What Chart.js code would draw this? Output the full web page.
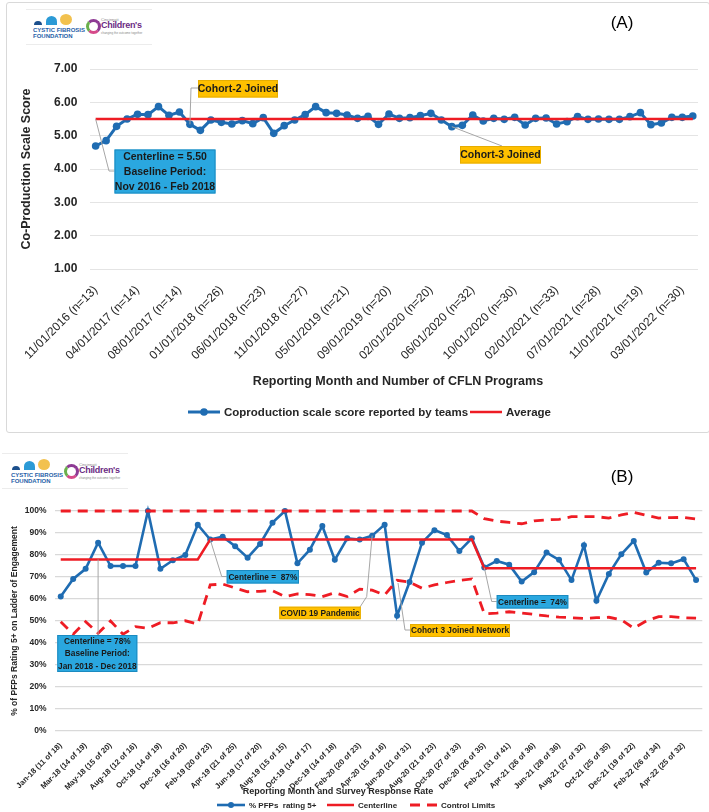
<!DOCTYPE html>
<html>
<head>
<meta charset="utf-8">
<script src="https://cdn.jsdelivr.net/npm/chart.js@4.4.1/dist/chart.umd.min.js"></script>
<style>
  body { margin: 0; background: #fff; width: 709px; height: 812px; overflow: hidden; position: relative; font-family: 'Liberation Sans', Arial, sans-serif; }
  canvas { position: absolute; left: 0; }
  #chartA { top: 0; }
  #chartB { top: 432px; }
  .frame { position: absolute; left: 6px; top: 2px; width: 702px; height: 429px; border: 1px solid #d9d9d9; border-radius: 3px; }
  .logoBox { position: absolute; width: 126px; height: 34px; border-top: 1px solid #ececec; border-bottom: 1px solid #ececec; }
  .logo { position: absolute; width: 120px; height: 26px; }
  .logo div { position: absolute; }
  .d1 { left: 1px; top: 7px; width: 8px; height: 4px; background: #1c4f8c; border-radius: 8px 8px 0 0; }
  .d2 { left: 13px; top: 2px; width: 11px; height: 9px; background: #2b9ad6; border-radius: 6px 6px 0 0; }
  .d3 { left: 27px; top: 0; width: 12px; height: 11px; background: #f2c14e; border-radius: 50%; }
  .cf { left: 0; font: bold 6px 'Liberation Sans', Arial, sans-serif; color: #1f5ea8; white-space: nowrap; }
  .sw { left: 53px; top: 5px; width: 9px; height: 9px; border-radius: 50%; border: 3px solid #8e3a94; border-left-color: #6ab04c; border-bottom-color: #d64a8a; }
  .cc1 { left: 68px; top: 3px; font: 4px 'Liberation Sans', Arial, sans-serif; color: #888; }
  .cc2 { left: 68px; top: 6px; font: bold 9px 'Liberation Sans', Arial, sans-serif; color: #6b2c84; white-space: nowrap; letter-spacing: -0.3px; }
  .cc3 { left: 68px; top: 17px; font: 3px 'Liberation Sans', Arial, sans-serif; color: #888; white-space: nowrap; }
</style>
</head>
<body>
<div class="frame"></div>
<div class="logoBox" style="left:26px;top:9px;"></div>
<div class="logo" style="left:33px;top:14px;">
  <div class="d1"></div><div class="d2"></div><div class="d3"></div>
  <div class="cf" style="top:13px;">CYSTIC FIBROSIS</div>
  <div class="cf" style="top:19px;">FOUNDATION</div>
  <div class="sw"></div>
  <div class="cc1">Cincinnati</div>
  <div class="cc2">Children's</div>
  <div class="cc3">changing the outcome together</div>
</div>
<div class="logoBox" style="left:2px;top:453px;"></div>
<div class="logo" style="left:11px;top:459px;">
  <div class="d1"></div><div class="d2"></div><div class="d3"></div>
  <div class="cf" style="top:13px;">CYSTIC FIBROSIS</div>
  <div class="cf" style="top:19px;">FOUNDATION</div>
  <div class="sw"></div>
  <div class="cc1">Cincinnati</div>
  <div class="cc2">Children's</div>
  <div class="cc3">changing the outcome together</div>
</div>
<canvas id="chartA" width="709" height="432"></canvas>
<canvas id="chartB" width="709" height="380"></canvas>
<script>
const FONT = "'Liberation Sans', Arial, sans-serif";
const BLUE = '#1f6cb2';
const RED = '#ee1c24';

// ---- chart A: co-production scale score ----
const tickLabelsA = [
  '11/01/2016 (n=13)', '04/01/2017 (n=14)', '08/01/2017 (n=14)', '01/01/2018 (n=26)',
  '06/01/2018 (n=23)', '11/01/2018 (n=27)', '05/01/2019 (n=21)', '09/01/2019 (n=20)',
  '02/01/2020 (n=20)', '06/01/2020 (n=32)', '10/01/2020 (n=30)', '02/01/2021 (n=33)',
  '07/01/2021 (n=28)', '11/01/2021 (n=19)', '03/01/2022 (n=30)'
];
const scoreA = [
  4.69, 4.85, 5.28, 5.50, 5.64, 5.63, 5.87, 5.61, 5.71, 5.34,
  5.16, 5.47, 5.40, 5.35, 5.45, 5.36, 5.54, 5.07, 5.30, 5.47,
  5.63, 5.87, 5.69, 5.67, 5.62, 5.52, 5.58, 5.34, 5.65, 5.52,
  5.54, 5.60, 5.67, 5.47, 5.27, 5.31, 5.62, 5.44, 5.52, 5.49,
  5.55, 5.32, 5.52, 5.53, 5.35, 5.42, 5.57, 5.49, 5.50, 5.49,
  5.49, 5.57, 5.69, 5.33, 5.38, 5.55, 5.55, 5.59
];
const averageA = 5.50;

// ---- chart B: % PFPs rating 5+ ----
const tickLabelsB = [
  'Jan-18 (11 of 18)', 'Mar-18 (14 of 19)', 'May-18 (15 of 20)', 'Aug-18 (12 of 16)',
  'Oct-18 (14 of 19)', 'Dec-18 (16 of 20)', 'Feb-19 (20 of 23)', 'Apr-19 (21 of 25)',
  'Jun-19 (17 of 20)', 'Aug-19 (15 of 15)', 'Oct-19 (14 of 17)', 'Dec-19 (14 of 18)',
  'Feb-20 (20 of 23)', 'Apr-20 (15 of 16)', 'Jun-20 (21 of 31)', 'Aug-20 (21 of 23)',
  'Oct-20 (27 of 33)', 'Dec-20 (26 of 35)', 'Feb-21 (31 of 41)', 'Apr-21 (26 of 36)',
  'Jun-21 (28 of 36)', 'Aug-21 (27 of 32)', 'Oct-21 (25 of 35)', 'Dec-21 (19 of 22)',
  'Feb-22 (26 of 34)', 'Apr-22 (25 of 32)'
];
const pctB = [
  61.1, 69.1, 73.7, 85.6, 75.0, 75.0, 75.0, 100, 73.7, 77.6,
  80.0, 93.8, 87.0, 88.3, 84.0, 78.8, 85.0, 94.7, 100, 76.2,
  82.4, 93.2, 77.8, 87.6, 87.0, 88.8, 93.8, 52.4, 67.7, 85.6,
  91.3, 89.1, 81.8, 87.6, 74.3, 77.3, 75.6, 67.9, 72.2, 81.1,
  77.8, 68.6, 84.4, 59.2, 71.4, 80.3, 86.4, 72.0, 76.5, 76.2,
  78.1, 68.6
];
const centerB = [
  78, 78, 78, 78, 78, 78, 78, 78, 78, 78, 78, 78,
  87, 87, 87, 87, 87, 87, 87, 87, 87, 87, 87, 87, 87, 87, 87, 87, 87, 87, 87, 87, 87, 87,
  74, 74, 74, 74, 74, 74, 74, 74, 74, 74, 74, 74, 74, 74, 74, 74, 74, 74
];
const uclB = [
  100, 100, 100, 100, 100, 100, 100, 100, 100, 100, 100, 100,
  100, 100, 100, 100, 100, 100, 100, 100, 100, 100, 100, 100, 100, 100, 100, 100, 100, 100, 100, 100, 100, 100,
  96.5, 95.4, 94.8, 94.2, 95.5, 96.0, 96.2, 97.4, 97.4, 97.4, 96.8, 98.2, 99.4, 98.0, 96.8, 97.0, 97.1, 96.4
];
const lclB = [
  49.7, 44.0, 49.7, 44.4, 50.0, 44.0, 47.4, 46.7, 49.2, 49.2, 50.1, 48.6,
  66.4, 66.8, 65.0, 63.3, 63.5, 63.8, 61.1, 62.3, 62.0, 61.1, 62.9, 61.1, 64.5, 64.0, 61.8, 68.5, 67.6, 64.9, 66.4, 67.5, 68.5, 69.1,
  53.3, 53.6, 54.2, 53.6, 53.0, 52.3, 51.8, 51.5, 51.2, 51.5, 51.7, 50.5, 46.7, 50.0, 52.0, 52.0, 51.5, 51.3
];

const catsA = scoreA.map((v, i) => (i % 4 === 0 ? tickLabelsA[i / 4] : ''));
const catsB = pctB.map((v, i) => (i % 2 === 0 ? tickLabelsB[i / 2] : ''));

// callout boxes with grey leader lines, anchored on data through the scales
function calloutPlugin(items) {
  return {
    id: 'callouts',
    afterDatasetsDraw(chart) {
      const ctx = chart.ctx;
      const xs = chart.scales.x, ys = chart.scales.y;
      items.forEach(it => {
        ctx.save();
        ctx.strokeStyle = '#a6a6a6';
        ctx.lineWidth = 1;
        ctx.beginPath();
        const start = it.from ? it.from : [xs.getPixelForValue(it.anchor[0]), ys.getPixelForValue(it.anchor[1])];
        ctx.moveTo(start[0], start[1]);
        it.path.forEach(p => ctx.lineTo(p[0], p[1]));
        ctx.stroke();
        const [bx, by, bw, bh] = it.box;
        ctx.fillStyle = it.fill;
        ctx.fillRect(bx, by, bw, bh);
        ctx.strokeStyle = it.stroke;
        ctx.strokeRect(bx + 0.5, by + 0.5, bw - 1, bh - 1);
        ctx.fillStyle = '#1a1a1a';
        ctx.font = 'bold ' + it.size + 'px ' + FONT;
        ctx.textAlign = 'center';
        ctx.textBaseline = 'middle';
        const lh = bh / it.lines.length;
        it.lines.forEach((t, k) => ctx.fillText(t, bx + bw / 2, by + lh * (k + 0.5) + 0.5));
        ctx.restore();
      });
    }
  };
}

// axis titles, legend and panel letter drawn on the canvas
function textPlugin(cfg) {
  return {
    id: 'texts',
    afterDraw(chart) {
      const ctx = chart.ctx;
      ctx.save();
      ctx.fillStyle = '#262626';
      ctx.textBaseline = 'middle';
      ctx.font = 'bold ' + cfg.ySize + 'px ' + FONT;
      ctx.translate(cfg.yTitle[0], cfg.yTitle[1]);
      ctx.rotate(-Math.PI / 2);
      ctx.textAlign = 'center';
      ctx.fillText(cfg.yText, 0, 0);
      ctx.restore();

      ctx.save();
      ctx.fillStyle = '#262626';
      ctx.textBaseline = 'middle';
      ctx.textAlign = 'center';
      ctx.font = 'bold ' + cfg.xSize + 'px ' + FONT;
      ctx.fillText(cfg.xText, cfg.xTitle[0], cfg.xTitle[1]);

      ctx.textAlign = 'left';
      ctx.font = 'bold ' + cfg.legSize + 'px ' + FONT;
      cfg.legend.forEach(l => {
        const ds = chart.data.datasets[l.ds];
        const y = cfg.legY;
        ctx.strokeStyle = ds.borderColor;
        ctx.lineWidth = ds.borderWidth;
        ctx.setLineDash(ds.borderDash || []);
        ctx.beginPath();
        ctx.moveTo(l.x, y);
        ctx.lineTo(l.x + l.w, y);
        ctx.stroke();
        ctx.setLineDash([]);
        if (ds.pointRadius > 0) {
          ctx.fillStyle = ds.borderColor;
          ctx.beginPath();
          ctx.arc(l.x + l.w / 2, y, ds.pointRadius, 0, Math.PI * 2);
          ctx.fill();
        }
        ctx.fillStyle = '#262626';
        ctx.fillText(ds.label, l.x + l.w + 4, y + 0.5);
      });

      ctx.font = '17px ' + FONT;
      ctx.fillStyle = '#000';
      ctx.textAlign = 'center';
      ctx.fillText(cfg.letter, cfg.letterPos[0], cfg.letterPos[1]);
      ctx.restore();
    }
  };
}

new Chart(document.getElementById('chartA'), {
  type: 'line',
  data: {
    labels: catsA,
    datasets: [
      { label: 'Coproduction scale score reported by teams', data: scoreA, borderColor: BLUE, backgroundColor: BLUE,
        borderWidth: 3, pointRadius: 3.8, pointBorderWidth: 0, pointBackgroundColor: BLUE, tension: 0, clip: false, order: 2 },
      { label: 'Average', data: scoreA.map(() => averageA), borderColor: RED, backgroundColor: RED,
        borderWidth: 2.5, pointRadius: 0, tension: 0, order: 1 }
    ]
  },
  options: {
    responsive: false,
    animation: false,
    events: [],
    layout: { padding: { left: 0, right: 3, top: 69, bottom: 0 } },
    plugins: { legend: { display: false }, tooltip: { enabled: false } },
    scales: {
      x: {
        offset: true,
        grid: { display: false },
        border: { display: false },
        ticks: { autoSkip: false, minRotation: 45, maxRotation: 45, padding: 6, color: '#262626', font: { family: FONT, size: 12 } },
        afterFit: s => { s.height = 163; }
      },
      y: {
        min: 1, max: 7,
        grid: { color: '#e4e4e4', drawTicks: false },
        border: { display: false },
        ticks: { stepSize: 1, padding: 13, color: '#262626', font: { family: FONT, size: 12, weight: 'bold' }, callback: v => v.toFixed(2) },
        afterFit: s => { s.width = 90.4; }
      }
    }
  },
  plugins: [
    calloutPlugin([
      { anchor: [0, averageA], path: [[109, 171], [114.5, 171]], box: [114.5, 149.5, 101, 44], fill: '#2aa7df', stroke: '#1b8ac0',
        lines: ['Centerline = 5.50', 'Baseline Period:', 'Nov 2016 - Feb 2018'], size: 10.5 },
      { anchor: [9, scoreA[9]], path: [[191, 88], [198, 88]], box: [198, 80, 80, 17.5], fill: '#ffc000', stroke: '#e6ad00',
        lines: ['Cohort-2 Joined'], size: 10.5 },
      { anchor: [34, scoreA[34]], path: [[502, 146]], box: [460, 146, 81, 17.5], fill: '#ffc000', stroke: '#e6ad00',
        lines: ['Cohort-3 Joined'], size: 10.5 }
    ]),
    textPlugin({
      yText: 'Co-Production Scale Score', yTitle: [27, 169], ySize: 12.5,
      xText: 'Reporting Month and Number of CFLN Programs', xTitle: [398, 382], xSize: 12.5,
      legY: 412, legSize: 11.5,
      legend: [{ ds: 0, x: 188, w: 32 }, { ds: 1, x: 470, w: 32 }],
      letter: '(A)', letterPos: [622, 23]
    })
  ]
});

new Chart(document.getElementById('chartB'), {
  type: 'line',
  data: {
    labels: catsB,
    datasets: [
      { label: '% PFPs  rating 5+', data: pctB, borderColor: BLUE, backgroundColor: BLUE,
        borderWidth: 2.6, pointRadius: 3, pointBorderWidth: 0, pointBackgroundColor: BLUE, tension: 0, clip: false, order: 3 },
      { label: 'Centerline', data: centerB, borderColor: RED, borderWidth: 2.5, pointRadius: 0, tension: 0, clip: false, order: 2 },
      { label: 'Control Limits', data: uclB, borderColor: RED, borderWidth: 2.8, borderDash: [10, 7], pointRadius: 0, tension: 0, clip: false, order: 1 },
      { label: 'Control Limits', data: lclB, borderColor: RED, borderWidth: 2.8, borderDash: [10, 7], pointRadius: 0, tension: 0, clip: false, order: 1 }
    ]
  },
  options: {
    responsive: false,
    animation: false,
    events: [],
    layout: { padding: { left: 0, right: 6.7, top: 79, bottom: 0 } },
    plugins: { legend: { display: false }, tooltip: { enabled: false } },
    scales: {
      x: {
        offset: true,
        grid: { display: false },
        border: { display: false },
        ticks: { autoSkip: false, minRotation: 45, maxRotation: 45, padding: 2, color: '#262626', font: { family: FONT, size: 7.8, weight: 'bold' } },
        afterFit: s => { s.height = 81; }
      },
      y: {
        min: 0, max: 100,
        grid: { color: '#d9d9d9', lineWidth: 1.3, drawTicks: false },
        border: { display: false },
        ticks: { stepSize: 10, padding: 8, color: '#262626', font: { family: FONT, size: 8.5, weight: 'bold' }, callback: v => v + '%' },
        afterFit: s => { s.width = 54.5; }
      }
    }
  },
  plugins: [
    calloutPlugin([
      { anchor: [3, centerB[3]], path: [[98.1, 203]], box: [57.3, 203, 80, 37], fill: '#2aa7df', stroke: '#1b8ac0',
        lines: ['Centerline = 78%', 'Baseline Period:', 'Jan 2018 - Dec 2018'], size: 8.3 },
      { anchor: [12, pctB[12]], path: [[221.7, 144.5], [226.7, 144.5]], box: [226.7, 138, 72.3, 13.5], fill: '#2aa7df', stroke: '#1b8ac0',
        lines: ['Centerline =  87%'], size: 8.3 },
      { anchor: [25, pctB[25]], path: [[366.7, 164.7], [360, 175]], box: [279.3, 174.7, 81.5, 12.5], fill: '#ffc000', stroke: '#e6ad00',
        lines: ['COVID 19 Pandemic'], size: 8.3 },
      { from: [398, 151], path: [[405, 198], [410, 198]], box: [410, 192, 100, 13], fill: '#ffc000', stroke: '#e6ad00',
        lines: ['Cohort 3 Joined Network'], size: 8.3 },
      { anchor: [34, pctB[34]], path: [[491.7, 169.5], [496.7, 169.5]], box: [496.7, 163, 71.6, 13.5], fill: '#2aa7df', stroke: '#1b8ac0',
        lines: ['Centerline =  74%'], size: 8.3 }
    ]),
    textPlugin({
      yText: '% of PFPs Rating 5+ on Ladder of Engagement', yTitle: [15, 189], ySize: 8.5,
      xText: 'Reporting Month and Survey Response Rate', xTitle: [338, 360], xSize: 9,
      legY: 373, legSize: 8,
      legend: [{ ds: 0, x: 217, w: 28 }, { ds: 1, x: 327, w: 27 }, { ds: 2, x: 410, w: 27 }],
      letter: '(B)', letterPos: [622, 45]
    })
  ]
});
</script>
</body>
</html>
